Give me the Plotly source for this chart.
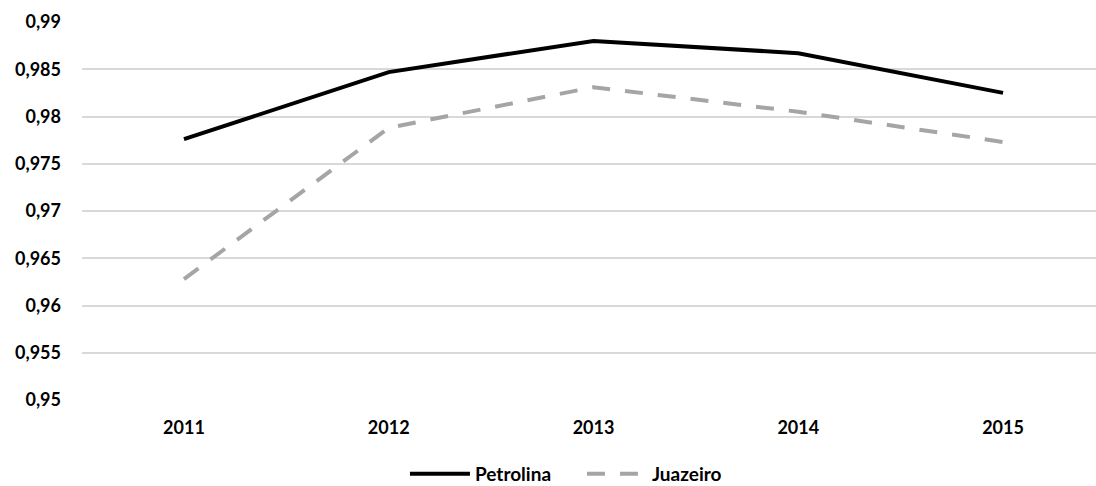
import plotly.graph_objects as go

years = [2011, 2012, 2013, 2014, 2015]
petrolina = [0.9776, 0.9847, 0.9880, 0.9867, 0.9825]
juazeiro = [0.9628, 0.9788, 0.9831, 0.9805, 0.9773]
ytick_vals = [0.95, 0.955, 0.96, 0.965, 0.97, 0.975, 0.98, 0.985, 0.99]
ytick_text = ["0,95", "0,955", "0,96", "0,965", "0,97", "0,975", "0,98", "0,985", "0,99"]

tickfont = dict(family="Lato", size=18, color="#000000", weight="bold")

fig = go.Figure()
fig.add_trace(go.Scatter(x=years, y=petrolina, mode="lines", name="Petrolina",
                         line=dict(color="#000000", width=4)))
fig.add_trace(go.Scatter(x=years, y=juazeiro, mode="lines", name="Juazeiro",
                         line=dict(color="#A5A5A5", width=4, dash="18px,15px")))

fig.update_layout(
    width=1096, height=486,
    margin=dict(l=82, r=0, t=22, b=86, autoexpand=False),
    paper_bgcolor="white", plot_bgcolor="white",
    font=tickfont,
    showlegend=True,
    legend=dict(orientation="h", x=0.3185, xanchor="left", y=-0.145, yanchor="top",
                font=dict(family="Lato", size=19, color="#000000", weight="bold"),
                itemwidth=60, entrywidth=102, entrywidthmode="pixels", tracegroupgap=0),
)
fig.update_xaxes(range=[2010.502, 2015.454], tickmode="array", tickvals=years,
                 ticktext=[str(y) for y in years], showgrid=False, zeroline=False,
                 showline=False, ticks="", ticklabelstandoff=15, tickfont=tickfont)
fig.update_yaxes(range=[0.95, 0.99], tickmode="array", tickvals=ytick_vals,
                 ticktext=ytick_text, showgrid=True, gridcolor="#D9D9D9", gridwidth=1.5,
                 zeroline=False, showline=False, ticks="", ticklabelstandoff=20,
                 tickfont=tickfont)

fig.write_html("out.html", config={"displayModeBar": False},
               post_script="document.body.style.margin='0';document.body.style.overflow='hidden';document.documentElement.style.overflow='hidden';")
